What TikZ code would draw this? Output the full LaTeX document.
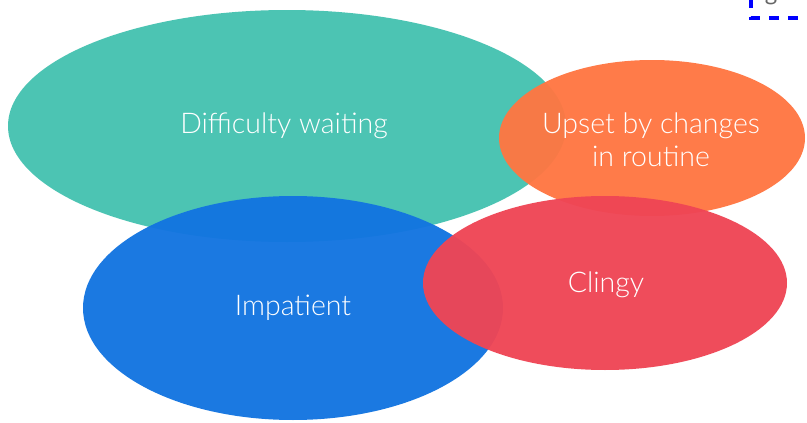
\documentclass[tikz,border=0pt]{standalone}
\usepackage{fontspec}
\setmainfont{Lato}[UprightFont={* Light}]
\newfontfamily\legfont{Lato}
\definecolor{cteal}{HTML}{45C2B0}
\definecolor{corange}{HTML}{FF7642}
\definecolor{cblue}{HTML}{1274E0}
\definecolor{cred}{HTML}{EF4555}
\definecolor{cgray}{HTML}{666666}
\begin{document}
\begin{tikzpicture}[x=1pt,y=-1pt,
  blob/.style={fill opacity=0.96,draw=none},
  lbl/.style={text=white,font=\fontsize{28.5}{33}\selectfont,align=center}]
\useasboundingbox (0,0) rectangle (807,423);
\fill[white] (0,0) rectangle (807,423);
\fill[cteal,blob] (287,126) ellipse [x radius=279,y radius=116];
\fill[corange,blob] (652,138) ellipse [x radius=153,y radius=78];
\fill[cblue,blob] (293,308) ellipse [x radius=210,y radius=112];
\fill[cred,blob] (605,283) ellipse [x radius=182,y radius=87];
\node[lbl] (dw) at (284,126) {Difficulty waiting};
\node[lbl] (up) at (651,140) {Upset by changes\\in routine};
\node[lbl] (im) at (293,308) {Impatient};
\node[lbl] (cl) at (606,285) {Clingy};
\draw[blue,line width=3.8pt,dash pattern=on 10pt off 9pt] (751,-2) -- (751,18) -- (810,18);
\node[text=cgray,font=\legfont\fontsize{24}{28}\selectfont,anchor=base] (lg) at (771,1) {g};
\end{tikzpicture}
\end{document}
